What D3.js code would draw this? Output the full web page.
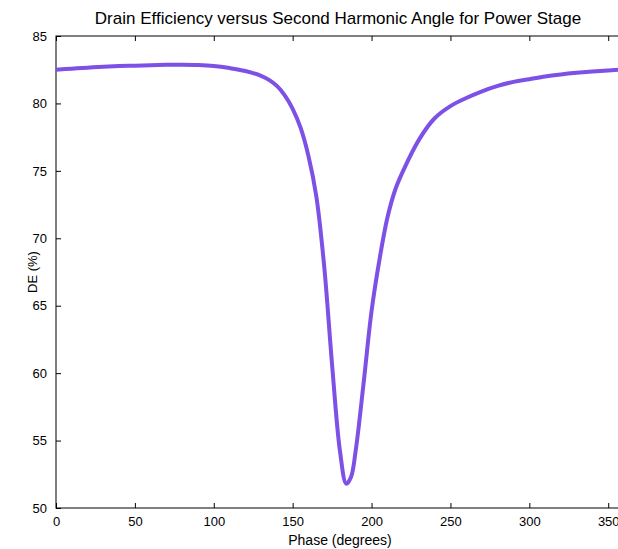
<!DOCTYPE html>
<html>
<head>
<meta charset="utf-8">
<script src="https://cdn.jsdelivr.net/npm/d3@7"></script>
<style>
  body { margin: 0; background: #fff; }
  svg text { font-family: "Liberation Sans", Arial, sans-serif; fill: #000; }
</style>
</head>
<body>
<div id="chart"></div>
<script>
const WIDTH = 618;
const HEIGHT = 549;

// phase (degrees) and drain efficiency (%)
const phase = [0, 10, 20, 30, 40, 50, 60, 70, 80, 90, 100, 110, 120, 130, 135, 140, 145, 150, 155, 160,
  165, 170, 175, 180, 184, 187, 190, 195, 200, 205, 210, 215, 220, 230, 240, 250, 260, 270, 280, 290,
  300, 310, 320, 330, 340, 350, 360];
const efficiency = [82.5, 82.58, 82.65, 82.72, 82.77, 82.8, 82.84, 82.86, 82.87, 82.85, 82.78, 82.62, 82.4, 82.05, 81.75, 81.3, 80.6, 79.6, 78.2, 76.1,
  73.1, 67.9, 60.6, 54.2, 51.8, 52.3, 54.3, 59.3, 64.6, 68.4, 71.5, 73.6, 75.0, 77.3, 78.9, 79.8, 80.4, 80.9, 81.3, 81.6,
  81.8, 82.0, 82.15, 82.27, 82.37, 82.45, 82.52];
const xTicks = [0, 50, 100, 150, 200, 250, 300, 350];
const yTicks = [50, 55, 60, 65, 70, 75, 80, 85];

const margin = { top: 36, left: 56 };
const plotW = 568, plotH = 472;

const svg = d3.select("#chart").append("svg").attr("width", WIDTH).attr("height", HEIGHT);
const g = svg.append("g").attr("transform", "translate(" + margin.left + "," + margin.top + ")");

const x = d3.scaleLinear().domain([0, 360]).range([0, plotW]);
const y = d3.scaleLinear().domain([50, 85]).range([plotH, 0]);

// inward ticks on all four sides, like the original figure
const styleAxis = sel => {
  sel.select(".domain").remove();
  sel.selectAll("line").attr("stroke", "#000");
  sel.selectAll("text").style("font-size", "13px");
};
g.append("g").attr("transform", "translate(0," + plotH + ")")
  .call(d3.axisBottom(x).tickValues(xTicks).tickSize(-5).tickPadding(9))
  .call(styleAxis);
g.append("g")
  .call(d3.axisTop(x).tickValues(xTicks).tickSize(-5).tickFormat(""))
  .call(styleAxis);
g.append("g")
  .call(d3.axisLeft(y).tickValues(yTicks).tickSize(-5).tickPadding(9))
  .call(styleAxis);
g.append("g").attr("transform", "translate(" + plotW + ",0)")
  .call(d3.axisRight(y).tickValues(yTicks).tickSize(-5).tickFormat(""))
  .call(styleAxis);

g.append("rect").attr("width", plotW).attr("height", plotH)
  .attr("fill", "none").attr("stroke", "#000").attr("stroke-width", 1);

const line = d3.line()
  .x((d, i) => x(phase[i]))
  .y(d => y(d))
  .curve(d3.curveCatmullRom.alpha(0.5));

g.append("path")
  .datum(efficiency)
  .attr("d", line)
  .attr("fill", "none")
  .attr("stroke", "#7d50e6")
  .attr("stroke-width", 4)
  .attr("stroke-linejoin", "round");

svg.append("text")
  .attr("x", 338).attr("y", 24)
  .attr("text-anchor", "middle")
  .style("font-size", "17px")
  .text("Drain Efficiency versus Second Harmonic Angle for Power Stage");

svg.append("text")
  .attr("x", 340).attr("y", 545)
  .attr("text-anchor", "middle")
  .style("font-size", "14px")
  .text("Phase (degrees)");

svg.append("text")
  .attr("transform", "translate(37," + (margin.top + plotH / 2) + ") rotate(-90)")
  .attr("text-anchor", "middle")
  .style("font-size", "13px")
  .text("DE (%)");
</script>
</body>
</html>
